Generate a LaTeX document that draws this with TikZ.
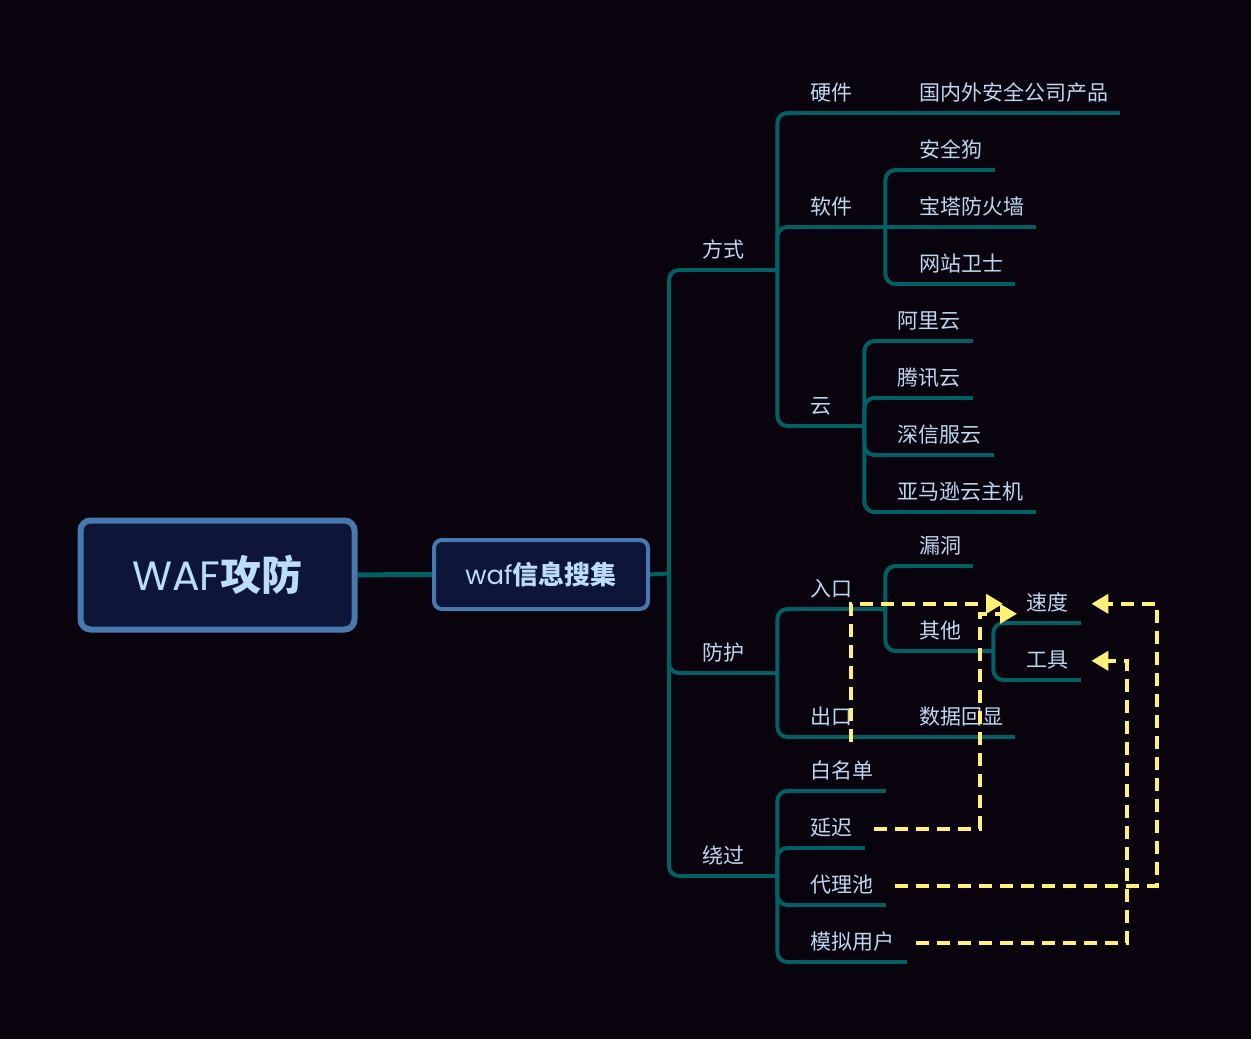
\documentclass[tikz,border=0pt]{standalone}
\usepackage{fontspec}
\setmainfont{Noto Sans CJK SC}
\newfontfamily\latinfont{Poppins}
\usetikzlibrary{arrows.meta}

\definecolor{bgdark}{RGB}{9,3,14}
\definecolor{branchteal}{RGB}{0,96,100}
\definecolor{lbl}{RGB}{190,215,240}
\definecolor{boxfill}{RGB}{13,21,56}
\definecolor{boxline}{RGB}{72,120,176}
\definecolor{rootlbl}{RGB}{188,220,251}
\definecolor{linkyellow}{RGB}{255,240,120}

\tikzset{
  topic/.style={anchor=south west, inner xsep=12pt, inner ysep=10pt, text height=16pt, text depth=2pt,
    text width=#1, align=left, text=lbl, font=\fontsize{21pt}{24pt}\selectfont},
  branch/.style={draw=branchteal, line width=4pt, rounded corners=10pt},
  rootbox/.style={draw=boxline, fill=boxfill, line width=6pt, rounded corners=10pt,
    minimum width=274pt, minimum height=109pt, text=rootlbl, font=\fontsize{41pt}{45pt}\selectfont\bfseries},
  infobox/.style={draw=boxline, fill=boxfill, line width=4pt, rounded corners=8pt,
    minimum width=214pt, minimum height=69pt, text=rootlbl, font=\fontsize{26pt}{30pt}\selectfont\bfseries},
  link/.style={draw=linkyellow, line width=4pt, dash pattern=on 13pt off 8pt,
    -{Triangle[length=17pt,width=19pt]}},
}

\begin{document}
\begin{tikzpicture}[x=1pt,y=-1pt]
	\fill[bgdark] (0,0) rectangle (1251,1039);

	\node[rootbox] (root) at (217.5,575) {{\latinfont\mdseries WAF}攻防};
	\node[infobox] (info) at (541,574.5) {{\latinfont\mdseries waf}信息搜集};
	\coordinate (trunk) at (669,573.5);

	% first level
	\node[topic=63pt] (fangshi) at (690,270) {方式};
	\node[topic=63pt] (fanghu) at (690,673) {防护};
	\node[topic=63pt] (raoguo) at (690,876) {绕过};

	% fangshi
	\node[topic=63pt] (yingjian) at (798,113) {硬件};
	\node[topic=63pt] (ruanjian) at (798,227) {软件};
	\node[topic=42pt] (yun) at (798,426) {云};
	\node[topic=189pt] (chanpin) at (907,113) {国内外安全公司产品};
	\node[topic=64pt] (anquangou) at (907,170) {安全狗};
	\node[topic=105pt] (baota) at (907,227) {宝塔防火墙};
	\node[topic=84pt] (wangzhan) at (907,284) {网站卫士};
	\node[topic=64pt] (aliyun) at (885,341) {阿里云};
	\node[topic=64pt] (tengxun) at (885,398) {腾讯云};
	\node[topic=85pt] (shenxinfu) at (885,455) {深信服云};
	\node[topic=127pt] (yamaxun) at (885,512) {亚马逊云主机};

	% fanghu
	\node[topic=63pt] (rukou) at (798,609) {入口};
	\node[topic=63pt] (chukou) at (798,737) {出口};
	\node[topic=42pt] (loudong) at (907,566) {漏洞};
	\node[topic=62pt] (qita) at (907,651) {其他};
	\node[topic=43pt] (sudu) at (1014,623) {速度};
	\node[topic=43pt] (gongju) at (1014,680) {工具};
	\node[topic=84pt] (huixian) at (907,737) {数据回显};

	% raoguo
	\node[topic=64pt] (baimingdan) at (798,791) {白名单};
	\node[topic=43pt] (yanchi) at (798,848) {延迟};
	\node[topic=64pt] (dailichi) at (798,905) {代理池};
	\node[topic=85pt] (moni) at (798,962) {模拟用户};

	\draw[branch, line width=5pt] (root) -- (info);
	\draw[branch] (info.east) -- (trunk);
	\foreach \n in {fangshi,fanghu,raoguo,yingjian,ruanjian,yun,chanpin,anquangou,baota,wangzhan,
		aliyun,tengxun,shenxinfu,yamaxun,rukou,chukou,loudong,qita,sudu,gongju,huixian,
		baimingdan,yanchi,dailichi,moni}
		\draw[branch] (\n.south west) -- (\n.south east);

	\foreach \c in {fangshi,fanghu,raoguo}
		\draw[branch] (trunk) |- (\c.south west);
	\foreach \c in {yingjian,ruanjian,yun}
		\draw[branch] (fangshi.south east) |- (\c.south west);
	\draw[branch] (yingjian.south east) -- (chanpin.south west);
	\draw[branch] (ruanjian.south east) -- (baota.south west);
	\foreach \c in {anquangou,wangzhan}
		\draw[branch] (ruanjian.south east) |- (\c.south west);
	\foreach \c in {aliyun,tengxun,shenxinfu,yamaxun}
		\draw[branch] (yun.south east) |- (\c.south west);
	\foreach \c in {rukou,chukou}
		\draw[branch] (fanghu.south east) |- (\c.south west);
	\foreach \c in {loudong,qita}
		\draw[branch] (rukou.south east) |- (\c.south west);
	\foreach \c in {sudu,gongju}
		\draw[branch] (qita.south east) |- (\c.south west);
	\draw[branch] (chukou.south east) -- (huixian.south west);
	\foreach \c in {baimingdan,yanchi,dailichi,moni}
		\draw[branch] (raoguo.south east) |- (\c.south west);

	% links
	\draw[link] ([xshift=9pt,yshift=-5pt]chukou.south) |- ([xshift=-11pt]sudu.west);
	\draw[link] ([xshift=9pt]yanchi.east) -| ([xshift=-34pt,yshift=-10pt]sudu.west) -- ([xshift=3pt,yshift=-10pt]sudu.west);
	\draw[link] ([xshift=9pt]dailichi.east) -| ([xshift=76pt]sudu.east) -- ([xshift=10pt]sudu.east);
	\draw[link] ([xshift=9pt]moni.east) -| ([xshift=46pt]gongju.east) -- ([xshift=10pt]gongju.east);
\end{tikzpicture}
\end{document}
